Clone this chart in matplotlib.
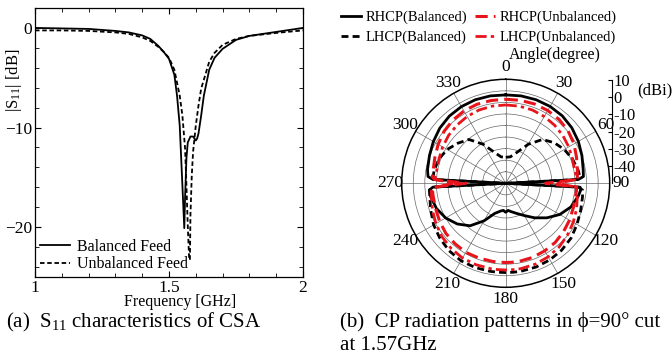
import numpy as np
import matplotlib
matplotlib.use('Agg')
import matplotlib.pyplot as plt
from matplotlib.ticker import MultipleLocator

plt.rcParams['font.family'] = ['Liberation Serif', 'DejaVu Serif']
plt.rcParams['mathtext.fontset'] = 'custom'
plt.rcParams['mathtext.rm'] = 'Liberation Serif'
plt.rcParams['mathtext.it'] = 'Liberation Serif'

# (a) S11 vs frequency
freq_bal = [1.0, 1.1, 1.2, 1.3, 1.35, 1.4, 1.43, 1.46, 1.48, 1.5, 1.52, 1.53, 1.54, 1.55,
            1.557, 1.56, 1.565, 1.57, 1.58, 1.59, 1.6, 1.605, 1.61, 1.62, 1.63, 1.65, 1.67,
            1.7, 1.75, 1.8, 1.9, 2.0]
s11_bal = [0.0, -0.05, -0.1, -0.3, -0.45, -0.75, -1.1, -1.8, -2.4, -3.1, -4.7, -6.8, -9.8,
           -15.8, -20.1, -17.0, -13.1, -11.5, -10.9, -10.9, -11.3, -11.1, -10.6, -8.8, -6.8,
           -4.2, -3.0, -2.1, -1.2, -0.8, -0.4, 0.0]
freq_unb = [1.0, 1.1, 1.2, 1.3, 1.35, 1.4, 1.43, 1.46, 1.48, 1.5, 1.52, 1.54, 1.55, 1.56,
            1.565, 1.57, 1.575, 1.578, 1.58, 1.585, 1.59, 1.6, 1.61, 1.62, 1.65, 1.67, 1.7,
            1.75, 1.8, 1.9, 2.0]
s11_unb = [-0.25, -0.25, -0.3, -0.45, -0.6, -0.95, -1.3, -1.9, -2.4, -3.0, -4.2, -6.8, -8.8,
           -12.1, -15.8, -19.8, -23.1, -23.3, -18.8, -14.8, -12.4, -9.8, -7.8, -6.1, -3.4,
           -2.5, -1.7, -1.1, -0.8, -0.5, -0.25]

# (b) CP radiation patterns (deg, dBi)
ang = [0, 10, 20, 30, 40, 50, 60, 70, 80, 85, 87, 90, 93, 95, 100, 110, 120, 130, 140, 150,
       160, 170, 175, 180, 185, 190, 200, 210, 220, 230, 240, 250, 260, 265, 267, 270, 273,
       275, 280, 290, 300, 310, 320, 330, 340, 350, 360]
rhcp_bal = [1.0, 1.2, 1.3, 1.2, 0.8, -0.2, -1.6, -3.2, -4.6, -5.0, -8, -50, -7, -6.5, -7.5,
            -10, -14, -19, -24, -28.5, -31.5, -33.5, -34.3, -33.3, -34.3, -33.8, -31.5, -25,
            -18, -13.5, -10, -7.5, -6, -5.8, -8, -50, -8, -5, -4.2, -3.2, -1.8, -0.4, 0.6,
            1.1, 1.3, 1.2, 1.0]
lhcp_bal = [-35, -34.5, -31, -24, -17, -13.5, -11, -9, -7.5, -7, -9, -50, -8, -5.5, -5, -4,
            -2.5, -0.8, 0.3, 1.0, 1.4, 1.5, 1.5, 1.5, 1.5, 1.6, 1.7, 1.6, 0.8, -0.5, -2, -4,
            -5.5, -6, -9, -50, -9, -8, -8, -9, -11, -14, -17, -24, -31, -34.5, -35]
rhcp_unb = [-1.5, -1.4, -1.3, -1.5, -2, -3, -4.5, -6.5, -8, -8.5, -9, -27, -9, -9, -9, -8.5,
            -7.5, -6.5, -5.5, -5, -4.5, -4.3, -4.3, -4.3, -4.3, -4.3, -4.2, -4, -4.5, -5, -6,
            -7, -7.5, -7.5, -9, -27, -9, -7.5, -7.5, -6.5, -5, -3.5, -2.5, -1.8, -1.5, -1.5,
            -1.5]
lhcp_unb = [-4.8, -4.8, -5, -5.5, -6.2, -7, -8, -9, -9.5, -9, -10, -20, -10, -9, -8, -6.5, -5,
            -3.5, -2, -1, -0.3, 0, 0, 0, 0, 0, 0, -0.2, -1, -2, -3.5, -5, -6.5, -7, -10, -20,
            -10, -9, -9.5, -9, -8, -7, -6.2, -5.5, -5, -4.8, -4.8]
theta_labels = ['0', '30', '60', '90', '120', '150', '180', '210', '240', '270', '300', '330']
r_labels = ['10', '0', '-10', '-20', '-30', '-40']

fig = plt.figure(figsize=(6.72, 3.6), dpi=100)

# ---- left: S11
ax = fig.add_axes([35/672, 1-277/360, 268/672, 269/360])
ax.plot(freq_bal, s11_bal, color='black', lw=1.3, label='Balanced Feed')
ax.plot(freq_unb, s11_unb, color='black', lw=1.3, ls=(0, (2.5, 1.5)), label='Unbalanced Feed')
ax.set_xlim(1, 2)
ax.set_ylim(-25, 2)
ax.set_xticks([1, 1.5, 2])
ax.set_xticklabels(['1', '1.5', '2'])
ax.set_yticks([0, -10, -20])
ax.xaxis.set_minor_locator(MultipleLocator(0.1))
ax.yaxis.set_minor_locator(MultipleLocator(2))
ax.tick_params(which='both', direction='in', top=True, right=True, labelsize=12.5)
ax.tick_params(which='major', length=4, pad=2)
ax.tick_params(which='minor', length=3)
for s in ax.spines.values():
    s.set_linewidth(0.9)
ax.set_xlabel('Frequency [GHz]', fontsize=11.5, labelpad=0)
ax.xaxis.set_label_coords(0.54, -0.065)
ax.set_ylabel(r'|S$_{11}$| [dB]', fontsize=12)
ax.yaxis.set_label_coords(-0.04, 0.73)
ax.legend(loc='lower left', frameon=False, fontsize=11.5, borderaxespad=0.1, borderpad=0.2,
          labelspacing=0.1, handlelength=1.9, handletextpad=0.4)

# ---- right: polar pattern
R = 104
cx, cy = 505.7, 183.3
pax = fig.add_axes([(cx-R)/672, 1-(cy+R)/360, 2*R/672, 2*R/360], projection='polar')
pax.set_theta_zero_location('N')
pax.set_theta_direction(-1)
th = np.deg2rad(ang)
l1, = pax.plot(th, rhcp_bal, color='black', lw=2.0)
l2, = pax.plot(th, lhcp_bal, color='black', lw=2.0, ls=(0, (2.5, 1.5)))
l3, = pax.plot(th, rhcp_unb, color='#e8141c', lw=2.2, ls=(0, (4, 2)))
l4, = pax.plot(th, lhcp_unb, color='#e8141c', lw=2.0, ls=(0, (4, 1.5, 1.2, 1.5)))
pax.set_ylim(-50, 10)
pax.set_yticks(np.linspace(-50, 10, 10)[1:-1])
pax.set_yticklabels([])
pax.set_thetagrids(np.arange(0, 360, 30), labels=theta_labels, fontsize=12.5)
pax.tick_params(axis='x', pad=-2)
pax.grid(color='0.4', lw=0.5)
pax.spines['polar'].set_linewidth(1.1)

# radial scale on the right
rax = fig.add_axes([612/672, 1-cy/360, 0.0005, (cy-80)/360])
rax.set_ylim(-50, 10)
rax.set_xticks([])
for k in ['left', 'top', 'bottom']:
    rax.spines[k].set_visible(False)
rax.spines['right'].set_linewidth(0.8)
rax.yaxis.tick_right()
rax.set_yticks([10, 0, -10, -20, -30, -40])
rax.set_yticklabels(r_labels)
rax.tick_params(axis='y', direction='in', length=3, pad=1, labelsize=12)
fig.text(637/672, 1-90/360, '(dBi)', fontsize=12, va='center', ha='left')
fig.text(555/672, 1-55/360, 'Angle(degree)', fontsize=11.5, va='center', ha='center')

fig.legend([l1, l2, l3, l4], ['RHCP(Balanced)', 'LHCP(Balanced)', 'RHCP(Unbalanced)',
           'LHCP(Unbalanced)'], loc='upper left', bbox_to_anchor=(330/672, 1.0), ncol=2,
           frameon=False, fontsize=10.5, handlelength=1.4, handletextpad=0.3,
           columnspacing=0.5, labelspacing=0.45, borderpad=0.25)

# captions
fig.text(6/672, 1-322/360, r'(a)  S$_{11}$ characteristics of CSA', fontsize=15, va='center')
fig.text(340/672, 1-322/360, '(b)  CP radiation patterns in ϕ=90° cut', fontsize=15,
         va='center')
fig.text(340/672, 1-346/360, 'at 1.57GHz', fontsize=15, va='center')

fig.savefig('out.png', dpi=100)
